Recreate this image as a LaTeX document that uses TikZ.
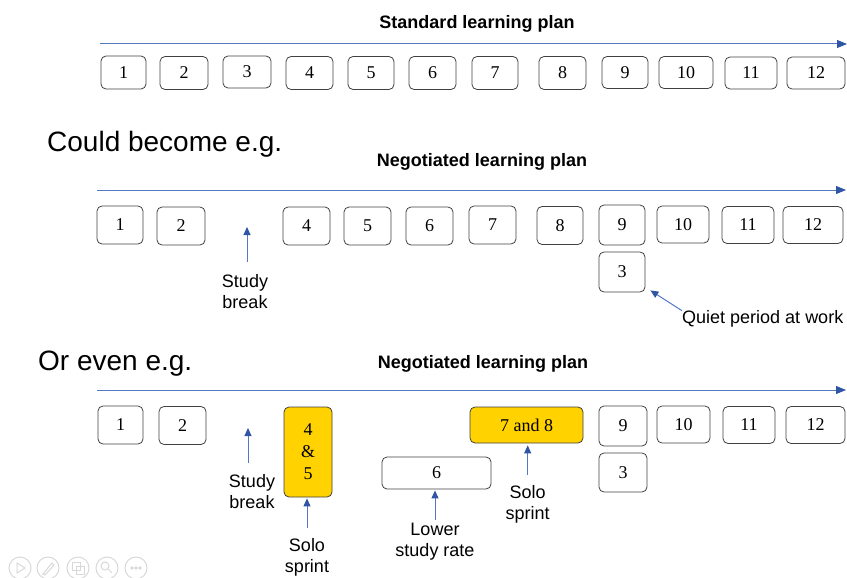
\documentclass[tikz,border=0pt]{standalone}
\usepackage{fontspec}
\setmainfont{Liberation Serif}
\newfontfamily\arialf{Liberation Sans}
\usetikzlibrary{arrows.meta}
\definecolor{boxgray}{HTML}{404040}
\definecolor{lineblue}{HTML}{5479C2}
\definecolor{tipblue}{HTML}{2F55A5}
\definecolor{sprintyellow}{HTML}{FFD200}
\definecolor{icongray}{HTML}{D8D8D8}
\begin{document}
\begin{tikzpicture}[x=1pt,y=-1pt,
 bx/.style={draw=boxgray, line width=0.8pt, rounded corners=5pt, inner sep=0pt, font=\fontsize{18}{22}\selectfont, align=center},
 ybx/.style={bx, fill=sprintyellow},
 timeline/.style={draw=lineblue, line width=1pt, -{Triangle[length=10pt,width=8pt,color=tipblue]}},
 ptr/.style={draw=lineblue, line width=1pt, -{Triangle[length=8pt,width=7pt,color=tipblue]}},
 ttl/.style={font=\arialf\bfseries\fontsize{18}{21}\selectfont, inner sep=0pt, anchor=base},
 head/.style={font=\arialf\fontsize{28}{32}\selectfont, inner sep=0pt, anchor=base west},
 lbl/.style={font=\arialf\fontsize{18}{21.5}\selectfont, inner sep=0pt, align=center, anchor=north},
 icon/.style={draw=icongray, line width=1pt}
]
\useasboundingbox (0,0) rectangle (847,578);

% ---------- Section 1 ----------
\node[ttl] (t1) at (477,28.3) {Standard learning plan};
\coordinate (l1s) at (100,44);
\coordinate (l1e) at (847,44);
\draw[timeline] (l1s) -- (l1e);

\node[bx, minimum width=45pt, minimum height=33pt] (a1)  at (123.5,72.5) {1};
\node[bx, minimum width=48pt, minimum height=33pt] (a2)  at (184,73) {2};
\node[bx, minimum width=48pt, minimum height=32pt] (a3)  at (247,72) {3};
\node[bx, minimum width=47pt, minimum height=33pt] (a4)  at (309.5,73) {4};
\node[bx, minimum width=46pt, minimum height=33pt] (a5)  at (371,73) {5};
\node[bx, minimum width=47pt, minimum height=33pt] (a6)  at (432.5,73) {6};
\node[bx, minimum width=46pt, minimum height=33pt] (a7)  at (495,73) {7};
\node[bx, minimum width=47pt, minimum height=33pt] (a8)  at (562.5,73) {8};
\node[bx, minimum width=46pt, minimum height=32pt] (a9)  at (625,72.5) {9};
\node[bx, minimum width=54pt, minimum height=32pt] (a10) at (686,72.5) {10};
\node[bx, minimum width=52pt, minimum height=32pt] (a11) at (751,73) {11};
\node[bx, minimum width=58pt, minimum height=32pt] (a12) at (816,73) {12};

% ---------- Section 2 ----------
\node[head] (h2) at (47,151.7) {Could become e.g.};
\node[ttl] (t2) at (482,166.5) {Negotiated learning plan};
\coordinate (l2s) at (97,190);
\coordinate (l2e) at (846,190);
\draw[timeline] (l2s) -- (l2e);

\node[bx, minimum width=46pt, minimum height=38pt] (b1)  at (120,225) {1};
\node[bx, minimum width=48pt, minimum height=38pt] (b2)  at (181,226) {2};
\node[bx, minimum width=47pt, minimum height=38pt] (b4)  at (306.5,226) {4};
\node[bx, minimum width=47pt, minimum height=38pt] (b5)  at (367.5,226) {5};
\node[bx, minimum width=47pt, minimum height=38pt] (b6)  at (429.5,226) {6};
\node[bx, minimum width=47pt, minimum height=38pt] (b7)  at (492.5,225) {7};
\node[bx, minimum width=46pt, minimum height=38pt] (b8)  at (560,225.5) {8};
\node[bx, minimum width=46pt, minimum height=40pt] (b9)  at (622,225) {9};
\node[bx, minimum width=52pt, minimum height=37pt] (b10) at (683,224.5) {10};
\node[bx, minimum width=52pt, minimum height=37pt] (b11) at (748,225) {11};
\node[bx, minimum width=60pt, minimum height=37pt] (b12) at (813,225) {12};
\node[bx, minimum width=46pt, minimum height=40pt] (b3)  at (622,272) {3};

\node[lbl] (sb2) at (245,274) {Study\\break};
\coordinate (sb2t) at (247,227);
\draw[ptr, shorten <=12pt] (sb2t |- sb2.north) -- (sb2t);

\node[lbl, anchor=north west] (qp) at (682,310.7) {Quiet period at work};
\draw[ptr] (qp.north west) -- ([xshift=5pt,yshift=2pt]b3.south east);

% ---------- Section 3 ----------
\node[head] (h3) at (38,370.5) {Or even e.g.};
\node[ttl] (t3) at (483,368.3) {Negotiated learning plan};
\coordinate (l3s) at (97,390);
\coordinate (l3e) at (846,390);
\draw[timeline] (l3s) -- (l3e);

\node[bx, minimum width=45pt, minimum height=38pt] (c1)  at (120.5,425) {1};
\node[bx, minimum width=47pt, minimum height=38pt] (c2)  at (182.5,425.5) {2};
\node[ybx, minimum width=48pt, minimum height=90pt] (c45) at (308,452) {4\\\&\\5};
\node[bx, minimum width=109pt, minimum height=32pt] (c6) at (436.5,473) {6};
\node[ybx, minimum width=113pt, minimum height=36pt] (c78) at (526.5,425) {7 and 8};
\node[bx, minimum width=48pt, minimum height=40pt] (c9)  at (623,426) {9};
\node[bx, minimum width=53pt, minimum height=37pt] (c10) at (683.5,424.5) {10};
\node[bx, minimum width=52pt, minimum height=37pt] (c11) at (749,425) {11};
\node[bx, minimum width=59pt, minimum height=37pt] (c12) at (815.5,425) {12};
\node[bx, minimum width=48pt, minimum height=39pt] (c3)  at (623,472.5) {3};

\node[lbl] (sb3) at (252,474) {Study\\break};
\coordinate (sb3t) at (248,428);
\draw[ptr, shorten <=11pt] (sb3t |- sb3.north) -- (sb3t);

\node[lbl] (ss1) at (307,538) {Solo\\sprint};
\draw[ptr, shorten <=10pt, shorten >=1pt] (ss1.north) -- (ss1.north |- c45.south);

\node[lbl] (lsr) at (435,522.7) {Lower\\study rate};
\draw[ptr, shorten <=2.5pt, shorten >=1pt] (lsr.north) -- (lsr.north |- c6.south);

\node[lbl] (ss2) at (527.7,485) {Solo\\sprint};
\draw[ptr, shorten <=10pt, shorten >=2pt] (ss2.north) -- (ss2.north |- c78.south);

% ---------- faint slide controls ----------
\draw[icon] (20,568) circle (11pt);
\draw[icon] (17,563) -- (25,568) -- (17,573) -- cycle;
\draw[icon] (48,568) circle (11pt);
\draw[icon] (43,574) -- (52,563) -- (54,565) -- (45,575) -- cycle;
\draw[icon] (78,568) circle (11pt);
\draw[icon] (72,562) rectangle (80,570);
\draw[icon] (76,566) rectangle (84,574);
\draw[icon] (107,568) circle (11pt);
\draw[icon] (105,566) circle (4pt);
\draw[icon] (108,569) -- (112,573);
\draw[icon] (136,568) circle (11pt);
\draw[icon] (132,568) circle (1.2pt);
\draw[icon] (136,568) circle (1.2pt);
\draw[icon] (140,568) circle (1.2pt);
\end{tikzpicture}
\end{document}
